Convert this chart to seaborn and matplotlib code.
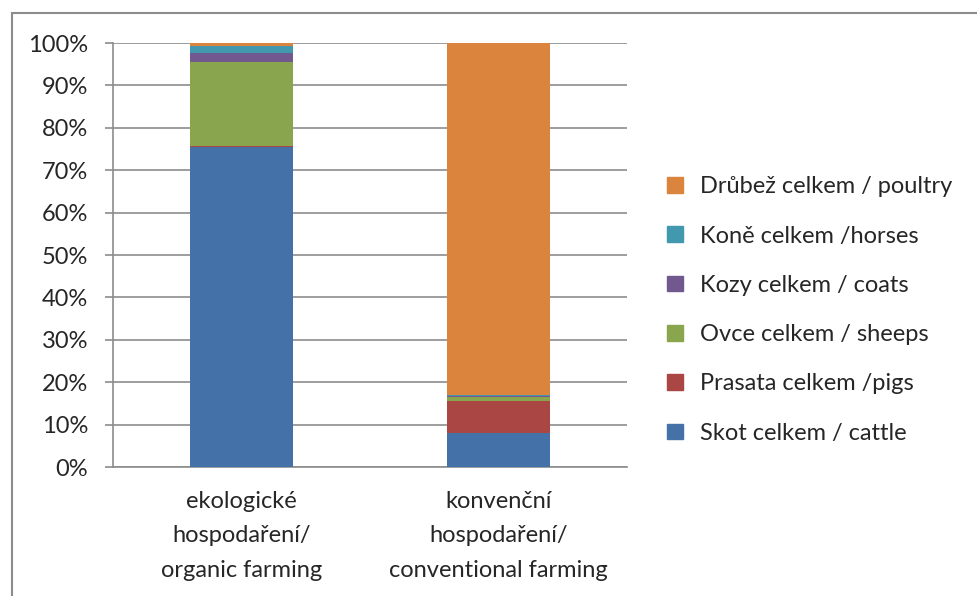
import matplotlib
matplotlib.use("Agg")
import matplotlib.pyplot as plt
import matplotlib.patches as mpatches
import seaborn as sns
import pandas as pd
import numpy as np

categories = ["ekologické\nhospodaření/\norganic farming",
              "konvenční\nhospodaření/\nconventional farming"]
series = ["Skot celkem / cattle", "Prasata celkem /pigs", "Ovce celkem / sheeps",
          "Kozy celkem / coats", "Koně celkem /horses", "Drůbež celkem / poultry"]
cattle = [75.4, 8.1]
pigs = [0.3, 7.5]
sheep = [19.9, 0.9]
goats = [2.1, 0.2]
horses = [1.6, 0.2]
poultry = [0.7, 83.1]
colors = ["#4472a8", "#aa4643", "#89a54e", "#71588f", "#4198af", "#db843d"]
yticks = [0, 10, 20, 30, 40, 50, 60, 70, 80, 90, 100]

sns.set_style("white")
plt.rcParams["font.family"] = ["Lato", "DejaVu Sans"]
FS = 17

values = [cattle, pigs, sheep, goats, horses, poultry]
rows = []
for s, v in zip(series, values):
    for c, val in zip(categories, v):
        rows.append({"category": c, "series": s, "value": val})
df = pd.DataFrame(rows)
totals = df.groupby("category", sort=False)["value"].sum()
df["pct"] = df.apply(lambda r: r["value"] / totals[r["category"]] * 100, axis=1)
df["cum"] = df.groupby("category", sort=False)["pct"].cumsum()

fig = plt.figure(figsize=(9.77, 5.96), dpi=100)
ax = fig.add_axes([113/977, 1-467/596, (627-113)/977, (467-43)/596])

# draw cumulative bars from the top series down so each overlays the previous
for s, col in reversed(list(zip(series, colors))):
    sub = df[df["series"] == s]
    sns.barplot(data=sub, x="category", y="cum", color=col, width=0.4,
                order=categories, ax=ax, saturation=1, zorder=3, linewidth=0)

ax.set_ylim(0, 100)
ax.set_xlim(-0.5, 1.5)
ax.set_yticks(yticks)
ax.set_yticklabels([f"{t}%" for t in yticks], fontsize=FS)
ax.yaxis.grid(True, color="#8c8c8c", linewidth=1.2, zorder=0)
ax.set_axisbelow(True)
ax.set_xlabel("")
ax.set_ylabel("")
ax.set_xticks([0, 1])
ax.set_xticklabels(categories, fontsize=FS, linespacing=1.8)
ax.tick_params(axis="x", length=0, pad=17)
ax.set_xticks([-0.5, 0.5, 1.5], minor=True)
ax.tick_params(axis="x", which="minor", length=6, color="#8c8c8c", width=1.2)
ax.tick_params(axis="y", length=6, color="#8c8c8c", width=1.2, pad=12, left=True)
for side in ["top", "right"]:
    ax.spines[side].set_visible(False)
for side in ["left", "bottom"]:
    ax.spines[side].set_color("#8c8c8c")
    ax.spines[side].set_linewidth(1.2)

handles = [mpatches.Patch(color=c, label=s) for s, c in zip(series, colors)]
leg = fig.legend(handles=handles[::-1], loc="center left",
                 bbox_to_anchor=(646/977, 1-310/596), frameon=False,
                 fontsize=FS, handlelength=0.65, handleheight=0.65,
                 labelspacing=1.2, handletextpad=0.75)

fig.patches.append(mpatches.Rectangle((12/977, -0.05), 1.0, 1-13/596+0.05,
                                      transform=fig.transFigure, fill=False,
                                      edgecolor="#8c8c8c", linewidth=1.5))

fig.savefig("out.png", dpi=100)
